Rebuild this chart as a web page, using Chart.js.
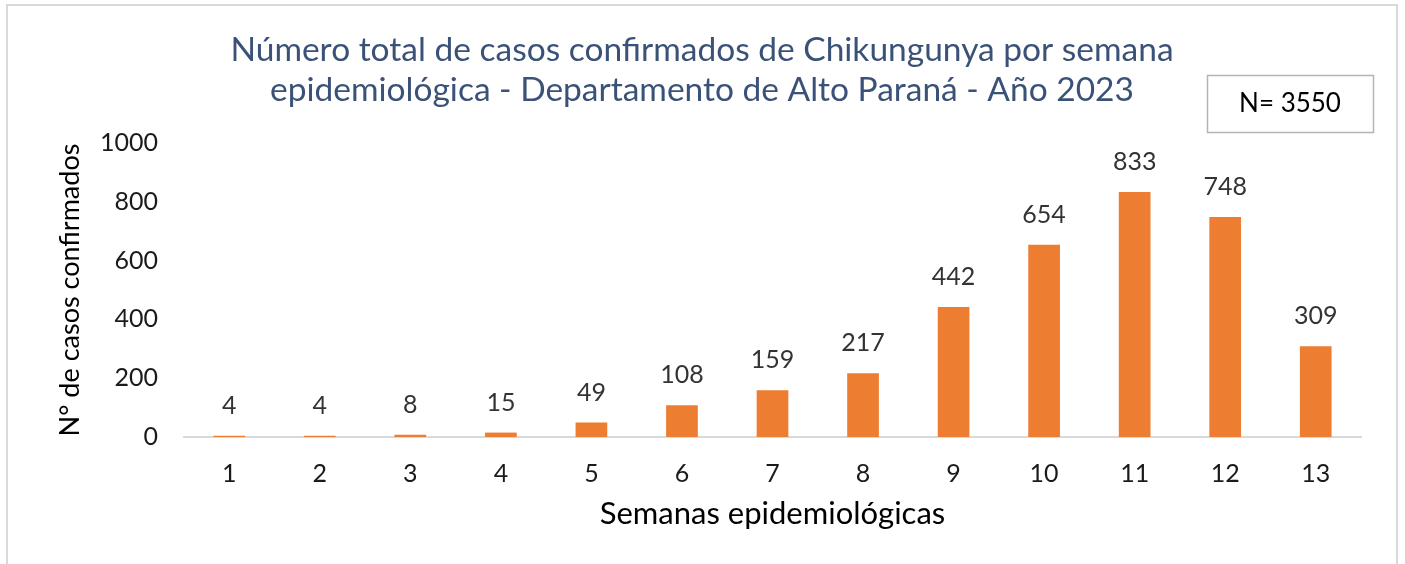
<!DOCTYPE html>
<html>
<head>
<meta charset="utf-8">
<script src="https://cdn.jsdelivr.net/npm/chart.js@4/dist/chart.umd.min.js"></script>
<style>
  html, body { margin: 0; padding: 0; background: #fff; }
  #wrap { width: 1405px; height: 564px; }
</style>
</head>
<body>
<div id="wrap"><canvas id="casos" width="1405" height="564"></canvas></div>
<script>
var semanas = ['1', '2', '3', '4', '5', '6', '7', '8', '9', '10', '11', '12', '13'];
var casos = [4, 4, 8, 15, 49, 108, 159, 217, 442, 654, 833, 748, 309];
var yTicks = [0, 200, 400, 600, 800, 1000];
var titulo = ['Número total de casos confirmados de Chikungunya por semana',
              'epidemiológica - Departamento de Alto Paraná - Año 2023'];
var totalTexto = 'N= 3550';

var fuente = 'Lato, "Open Sans", sans-serif';

// marco gris, cuadro N= y etiquetas de valores
var extras = {
  id: 'extras',
  beforeDraw: function (chart) {
    var c = chart.ctx;
    c.save();
    c.fillStyle = '#fff';
    c.fillRect(0, 0, chart.width, chart.height);
    c.strokeStyle = '#d9d9d9';
    c.lineWidth = 2;
    c.strokeRect(7, 5, 1390, 600);
    c.restore();
  },
  afterDatasetsDraw: function (chart) {
    var c = chart.ctx;
    c.save();
    c.font = '25px ' + fuente;
    c.fillStyle = '#333';
    c.textAlign = 'center';
    c.textBaseline = 'middle';
    chart.getDatasetMeta(0).data.forEach(function (bar, i) {
      c.fillText(casos[i], bar.x, bar.y - 30);
    });

    c.strokeStyle = '#b4b4b4';
    c.lineWidth = 1.5;
    c.strokeRect(1207.5, 75.5, 166, 57);
    c.font = '26px ' + fuente;
    c.fillStyle = '#000';
    c.fillText(totalTexto, 1290, 104);
    c.restore();
  }
};

var ctx = document.getElementById('casos').getContext('2d');
var grafico = new Chart(ctx, {
  type: 'bar',
  data: {
    labels: semanas,
    datasets: [{
      data: casos,
      backgroundColor: '#ed7d31',
      borderWidth: 0,
      barPercentage: 0.35,
      categoryPercentage: 1
    }]
  },
  plugins: [extras],
  options: {
    responsive: false,
    animation: false,
    layout: {
      padding: { left: 43, right: 44, top: 0, bottom: 0 }
    },
    scales: {
      x: {
        grid: { display: false, drawTicks: false },
        border: { display: true, color: '#d9d9d9', width: 2 },
        ticks: {
          padding: 22,
          color: '#1a1a1a',
          font: { family: fuente, size: 25 }
        },
        title: {
          display: true,
          text: 'Semanas epidemiológicas',
          color: '#000',
          font: { family: fuente, size: 31 },
          padding: { top: 0, bottom: 31 }
        },
        afterFit: function (scale) { scale.height = 127; }
      },
      y: {
        min: 0,
        max: 1000,
        grid: { display: false, drawTicks: false },
        border: { display: false },
        afterBuildTicks: function (scale) {
          scale.ticks = yTicks.map(function (v) { return { value: v }; });
        },
        ticks: {
          padding: 26,
          color: '#1a1a1a',
          font: { family: fuente, size: 25 },
          callback: function (v) { return String(v); }
        },
        title: {
          display: true,
          text: 'N° de casos confirmados',
          color: '#000',
          font: { family: fuente, size: 27 },
          padding: { top: 11, bottom: 0 }
        },
        afterFit: function (scale) { scale.width = 141; }
      }
    },
    plugins: {
      legend: { display: false },
      tooltip: { enabled: false },
      title: {
        display: true,
        text: titulo,
        color: '#3b5278',
        font: { family: fuente, size: 33.5, weight: 'normal', lineHeight: 1.194 },
        padding: { top: 30, bottom: 33 }
      }
    }
  }
});
</script>
</body>
</html>
